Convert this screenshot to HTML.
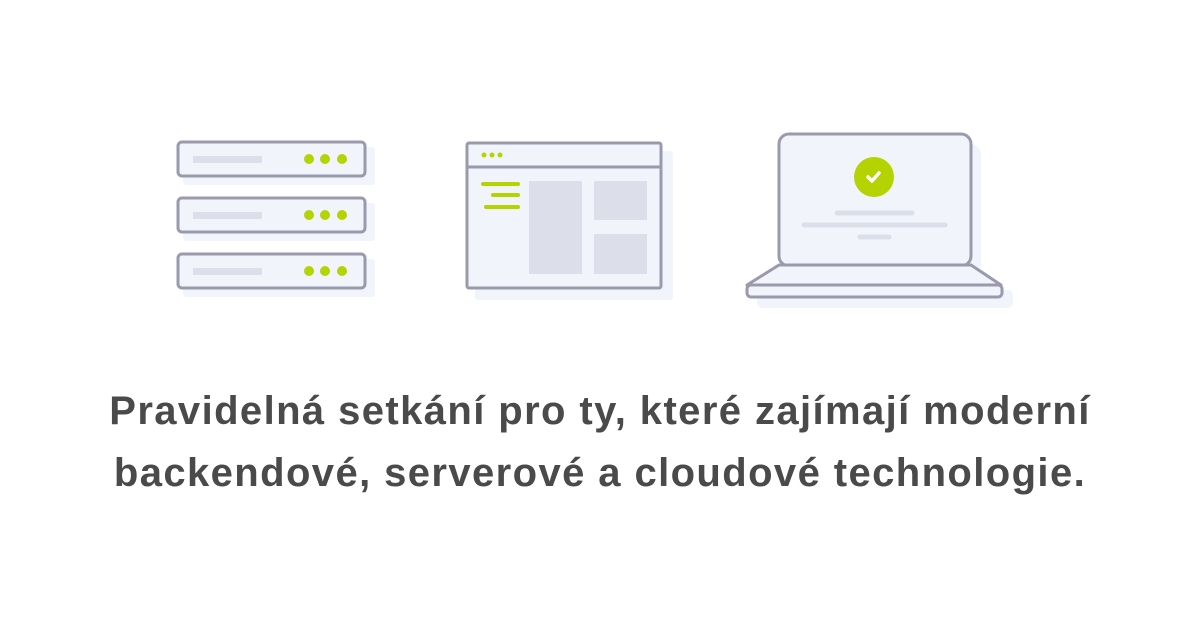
<!DOCTYPE html>
<html><head><meta charset="utf-8"><style>
html,body{margin:0;padding:0;background:#fff;width:1200px;height:630px;overflow:hidden}
.t{position:absolute;left:0;width:1200px;text-align:center;font-family:"Liberation Sans",sans-serif;font-weight:bold;font-size:40px;line-height:46px;color:#4a4a4a;letter-spacing:1.4px;white-space:nowrap}
</style></head><body>
<svg width="1200" height="630" style="position:absolute;left:0;top:0">
<g>
 <g id="s1">
 <rect x="183" y="147" width="192" height="38" rx="3" fill="#f1f4fb"/>
 <rect x="178" y="142" width="187" height="34" rx="4" fill="#f1f4fb" stroke="#9b9aac" stroke-width="3"/>
 <rect x="193" y="156" width="69" height="7" fill="#dcdfea"/>
 <circle cx="309" cy="159" r="5" fill="#b5d300"/><circle cx="325" cy="159" r="5" fill="#b5d300"/><circle cx="342" cy="159" r="5" fill="#b5d300"/>
 </g>
 <use href="#s1" y="56"/>
 <use href="#s1" y="112"/>
</g>
<rect x="475" y="151" width="198" height="149" rx="3" fill="#f1f4fb"/>
<rect x="467" y="143" width="194" height="145" fill="#f1f4fb" stroke="#9b9aac" stroke-width="3" rx="2"/>
<line x1="467" y1="167" x2="661" y2="167" stroke="#9b9aac" stroke-width="3"/>
<circle cx="484" cy="155" r="2.5" fill="#b5d300"/><circle cx="492" cy="155" r="2.5" fill="#b5d300"/><circle cx="500" cy="155" r="2.5" fill="#b5d300"/>
<g stroke="#b5d300" stroke-width="4" stroke-linecap="round">
<line x1="483" y1="184" x2="518" y2="184"/><line x1="493" y1="195" x2="518" y2="195"/><line x1="486" y1="207" x2="518" y2="207"/>
</g>
<rect x="529" y="181" width="53" height="93" fill="#dcdfea"/>
<rect x="594" y="181" width="53" height="39" fill="#dcdfea"/>
<rect x="594" y="234" width="53" height="40" fill="#dcdfea"/>
<rect x="789" y="144" width="192" height="130" rx="10" fill="#f1f4fb"/>
<rect x="757" y="290" width="256" height="18" rx="5" fill="#f1f4fb"/>
<rect x="779" y="134" width="192" height="132" rx="10" fill="#f1f4fb" stroke="#9b9aac" stroke-width="3"/>
<path d="M779 265 L971 265 L1001 285 L747 285 Z" fill="#f1f4fb" stroke="#9b9aac" stroke-width="3" stroke-linejoin="round"/>
<rect x="747" y="285" width="255" height="12" rx="4" fill="#f1f4fb" stroke="#9b9aac" stroke-width="3"/>
<circle cx="874" cy="177" r="20" fill="#b5d300"/>
<path d="M868 177 L872 181 L879 173" fill="none" stroke="#fff" stroke-width="3.5" stroke-linecap="round" stroke-linejoin="round"/>
<g stroke="#dcdfea" stroke-width="5" stroke-linecap="round">
<line x1="837" y1="213" x2="912" y2="213"/><line x1="804" y1="225" x2="945" y2="225"/><line x1="860" y1="237" x2="889" y2="237"/>
</g>
</svg>
<div class="t" style="top:388px">Pravidelná setkání pro ty, které zajímají moderní</div>
<div class="t" style="top:450px">backendové, serverové a cloudové technologie.</div>
</body></html>
